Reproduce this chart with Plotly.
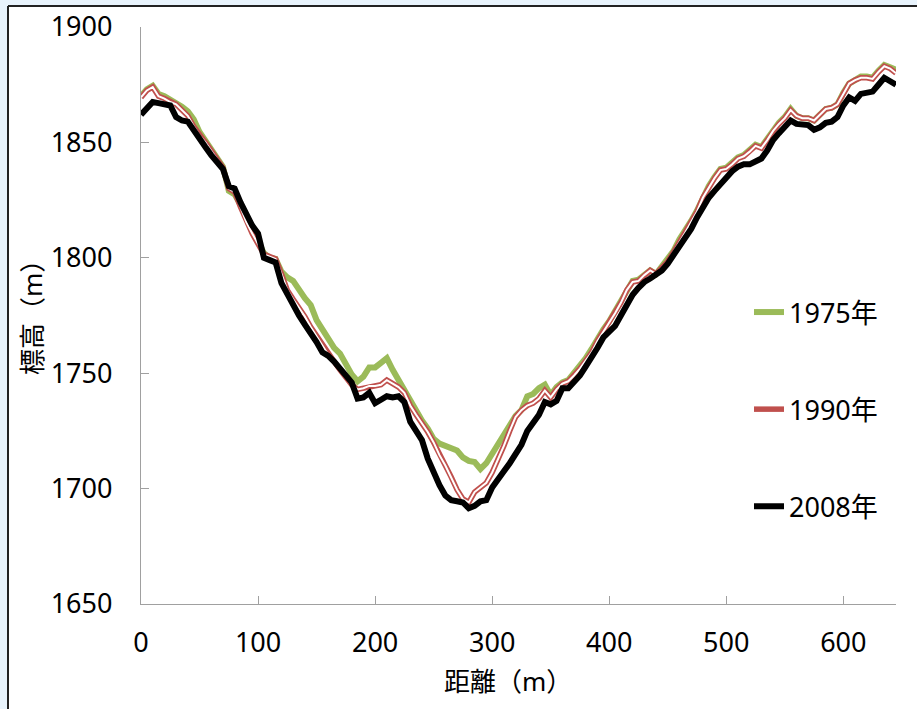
import plotly.graph_objects as go

distance = list(range(0, 650, 5))

elev_1975 = [
    1870, 1873, 1874.5, 1871, 1870, 1868.5, 1867.5, 1865.5, 1863.5, 1860,
    1854.5, 1851, 1847.5, 1843.5, 1839.5, 1829, 1827.5, 1823, 1818, 1812.5,
    1807.5, 1802, 1800, 1799.5, 1794, 1791.5, 1790, 1786, 1782.5, 1779.5,
    1773, 1769, 1764.5, 1761, 1758.5, 1754, 1749.5, 1746.5, 1748.5, 1752.5,
    1752.5, 1754.5, 1756.5, 1751.5, 1747, 1743, 1738.5, 1733.5, 1729.5, 1726,
    1721.5, 1719.5, 1718.5, 1717, 1716.5, 1713.5, 1712, 1711.5, 1708.5, 1711,
    1715, 1719, 1723, 1728, 1731.5, 1734, 1740, 1741, 1743.5, 1745,
    1740.5, 1744, 1746, 1747, 1750, 1753, 1756.5, 1760.5, 1765, 1769,
    1772.5, 1777, 1781, 1786.5, 1790, 1790.5, 1792.5, 1794.5, 1793, 1796,
    1799, 1803, 1808, 1811.5, 1816, 1820.5, 1826.5, 1831, 1835, 1838.5,
    1839, 1841, 1843.5, 1844.5, 1846.5, 1849, 1848, 1851.5, 1855.5, 1858.5,
    1861, 1864.5, 1861.5, 1860.5, 1860.5, 1859.5, 1862, 1864.5, 1865, 1866.5,
    1871.5, 1875.5, 1877, 1878.5, 1878.5, 1878, 1881, 1883.5, 1882.5, 1881.5,
]

elev_1990 = [
    1869.5, 1872.5, 1874, 1870, 1869, 1867.5, 1866.5, 1864, 1861.5, 1857,
    1853, 1850, 1846.5, 1843, 1839, 1830, 1828.5, 1822, 1815.5, 1810.5,
    1806, 1801.5, 1800.5, 1799.5, 1793, 1786, 1782, 1778.5, 1774.5, 1770,
    1766, 1762, 1758, 1755, 1751.5, 1748, 1745, 1743, 1743.5, 1744.5,
    1744.5, 1745, 1747, 1745.5, 1744, 1741.5, 1736, 1732, 1728.5, 1724.5,
    1720, 1714.5, 1710, 1705, 1699.5, 1695.5, 1694, 1698.5, 1700.5, 1702.5,
    1707, 1712.5, 1718.5, 1725, 1731, 1734, 1736, 1737, 1739, 1742.5,
    1739.5, 1743, 1745.5, 1746.5, 1749, 1752, 1755.5, 1759, 1764, 1768,
    1771.5, 1776, 1780.5, 1786, 1789.5, 1790, 1792.5, 1794.5, 1793, 1795.5,
    1798.5, 1802.5, 1807, 1811, 1815.5, 1820, 1826, 1830.5, 1834.5, 1838,
    1838.5, 1840.5, 1843, 1844, 1846, 1848.5, 1847.5, 1851, 1855, 1858,
    1860.5, 1864, 1861.5, 1860.5, 1860.5, 1859.5, 1862, 1864.5, 1865, 1866.5,
    1871, 1875.5, 1877, 1878, 1878, 1877.5, 1880.5, 1883, 1882, 1880,
]

elev_2008 = [
    1862, 1865, 1867.5, 1867, 1866.5, 1866, 1861, 1859.5, 1859, 1855,
    1851.5, 1848, 1844.5, 1841, 1838.5, 1831, 1830, 1824, 1818.5, 1814,
    1810.5, 1800, 1799, 1798, 1789, 1784, 1780, 1775, 1771, 1767.5,
    1763.5, 1759, 1757.5, 1755, 1752, 1748.5, 1746, 1739, 1739.5, 1741.5,
    1737, 1738.5, 1740, 1739.5, 1740, 1737.5, 1729, 1725, 1721, 1713,
    1707, 1701.5, 1697, 1695, 1694.5, 1694, 1691.5, 1692.5, 1694.5, 1695,
    1700.5, 1704.5, 1707.5, 1711, 1714.5, 1719, 1725, 1728, 1732, 1737.5,
    1736.5, 1738, 1743.5, 1743.5, 1746, 1749, 1753, 1756.5, 1761, 1765.5,
    1768, 1770.5, 1775, 1780, 1784, 1787, 1789.5, 1791, 1792.5, 1794.5,
    1797.5, 1801, 1805, 1808.5, 1812.5, 1817.5, 1822, 1826, 1829, 1832,
    1834.5, 1837.5, 1839.5, 1840.5, 1840.5, 1842, 1843, 1846.5, 1851, 1854,
    1857, 1859.5, 1858, 1857.5, 1857.5, 1855.5, 1856.5, 1858.5, 1859, 1861,
    1866, 1869.5, 1868, 1871, 1871.5, 1872, 1875, 1878, 1876.5, 1875,
]

series_names = ["1975年", "1990年", "2008年"]
x_ticks = [0, 100, 200, 300, 400, 500, 600]
y_ticks = [1650, 1700, 1750, 1800, 1850, 1900]
x_title = "距離（m）"
y_title = "標高（m）"

FONT = "Noto Sans, Noto Sans CJK JP, sans-serif"

fig = go.Figure()
fig.add_trace(go.Scatter(x=distance, y=elev_1975, mode="lines", name=series_names[0],
                         line=dict(color="#9bbb59", width=6), legendgroup="a"))
fig.add_trace(go.Scatter(x=distance, y=elev_1990, mode="lines", name=series_names[1],
                         line=dict(color="#c0504d", width=5.5), legendgroup="b"))
fig.add_trace(go.Scatter(x=distance, y=elev_1990, mode="lines", showlegend=False,
                         line=dict(color="#ffffff", width=2), legendgroup="b",
                         hoverinfo="skip"))
fig.add_trace(go.Scatter(x=distance, y=elev_2008, mode="lines", name=series_names[2],
                         line=dict(color="#000000", width=6), legendgroup="c"))

L, R, T, B = 141, 21, 27, 105
W, H = 917, 709
pw, ph = W - L - R, H - T - B

def px_x(p):
    return (p - L) / pw

def px_y(p):
    return (H - B - p) / ph

# white panel with dark frame on its left and top edges
fig.add_shape(type="rect", xref="paper", yref="paper",
              x0=px_x(8), x1=px_x(960), y0=px_y(760), y1=px_y(6),
              fillcolor="white", line=dict(width=0), layer="below")
fig.add_shape(type="line", xref="paper", yref="paper",
              x0=px_x(8), x1=px_x(8), y0=px_y(760), y1=px_y(6),
              line=dict(color="#222222", width=2), layer="below")
fig.add_shape(type="line", xref="paper", yref="paper",
              x0=px_x(8), x1=px_x(960), y0=px_y(6), y1=px_y(6),
              line=dict(color="#222222", width=2), layer="below")

fig.add_annotation(text=x_title, xref="paper", yref="paper", x=px_x(508), y=px_y(681),
                   xanchor="center", yanchor="middle", showarrow=False,
                   font=dict(size=26, family=FONT, color="#000000"))
fig.add_annotation(text=y_title, xref="paper", yref="paper", x=px_x(32), y=px_y(311),
                   xanchor="center", yanchor="middle", showarrow=False, textangle=-90,
                   font=dict(size=26, family=FONT, color="#000000"))

fig.update_layout(
    width=W, height=H,
    margin=dict(l=L, r=R, t=T, b=B, pad=0, autoexpand=False),
    paper_bgcolor="#e8f3fc",
    plot_bgcolor="rgba(0,0,0,0)",
    font=dict(family=FONT, size=27, color="#000000"),
    showlegend=True,
    legend=dict(x=px_x(749), y=px_y(288), xanchor="left", yanchor="top",
                bgcolor="rgba(0,0,0,0)", font=dict(size=27, family=FONT),
                tracegroupgap=59, itemwidth=30),
    xaxis=dict(range=[0, 645], tickvals=x_ticks, showgrid=False, zeroline=False,
               showline=True, linecolor="#a0a0a0", linewidth=1.3, automargin=False,
               ticks="inside", ticklen=8, tickcolor="#a0a0a0", tickwidth=1.3,
               tickfont=dict(size=27, family=FONT), ticklabelstandoff=14),
    yaxis=dict(range=[1650, 1900], tickvals=y_ticks, showgrid=False, zeroline=False,
               showline=True, linecolor="#a0a0a0", linewidth=1.3, automargin=False,
               ticks="inside", ticklen=8, tickcolor="#a0a0a0", tickwidth=1.3,
               tickfont=dict(size=27, family=FONT), ticklabelstandoff=22),
)

fig.write_html("out.html", config={"displayModeBar": False},
               post_script="document.body.style.margin='0';document.body.style.overflow='hidden';")
